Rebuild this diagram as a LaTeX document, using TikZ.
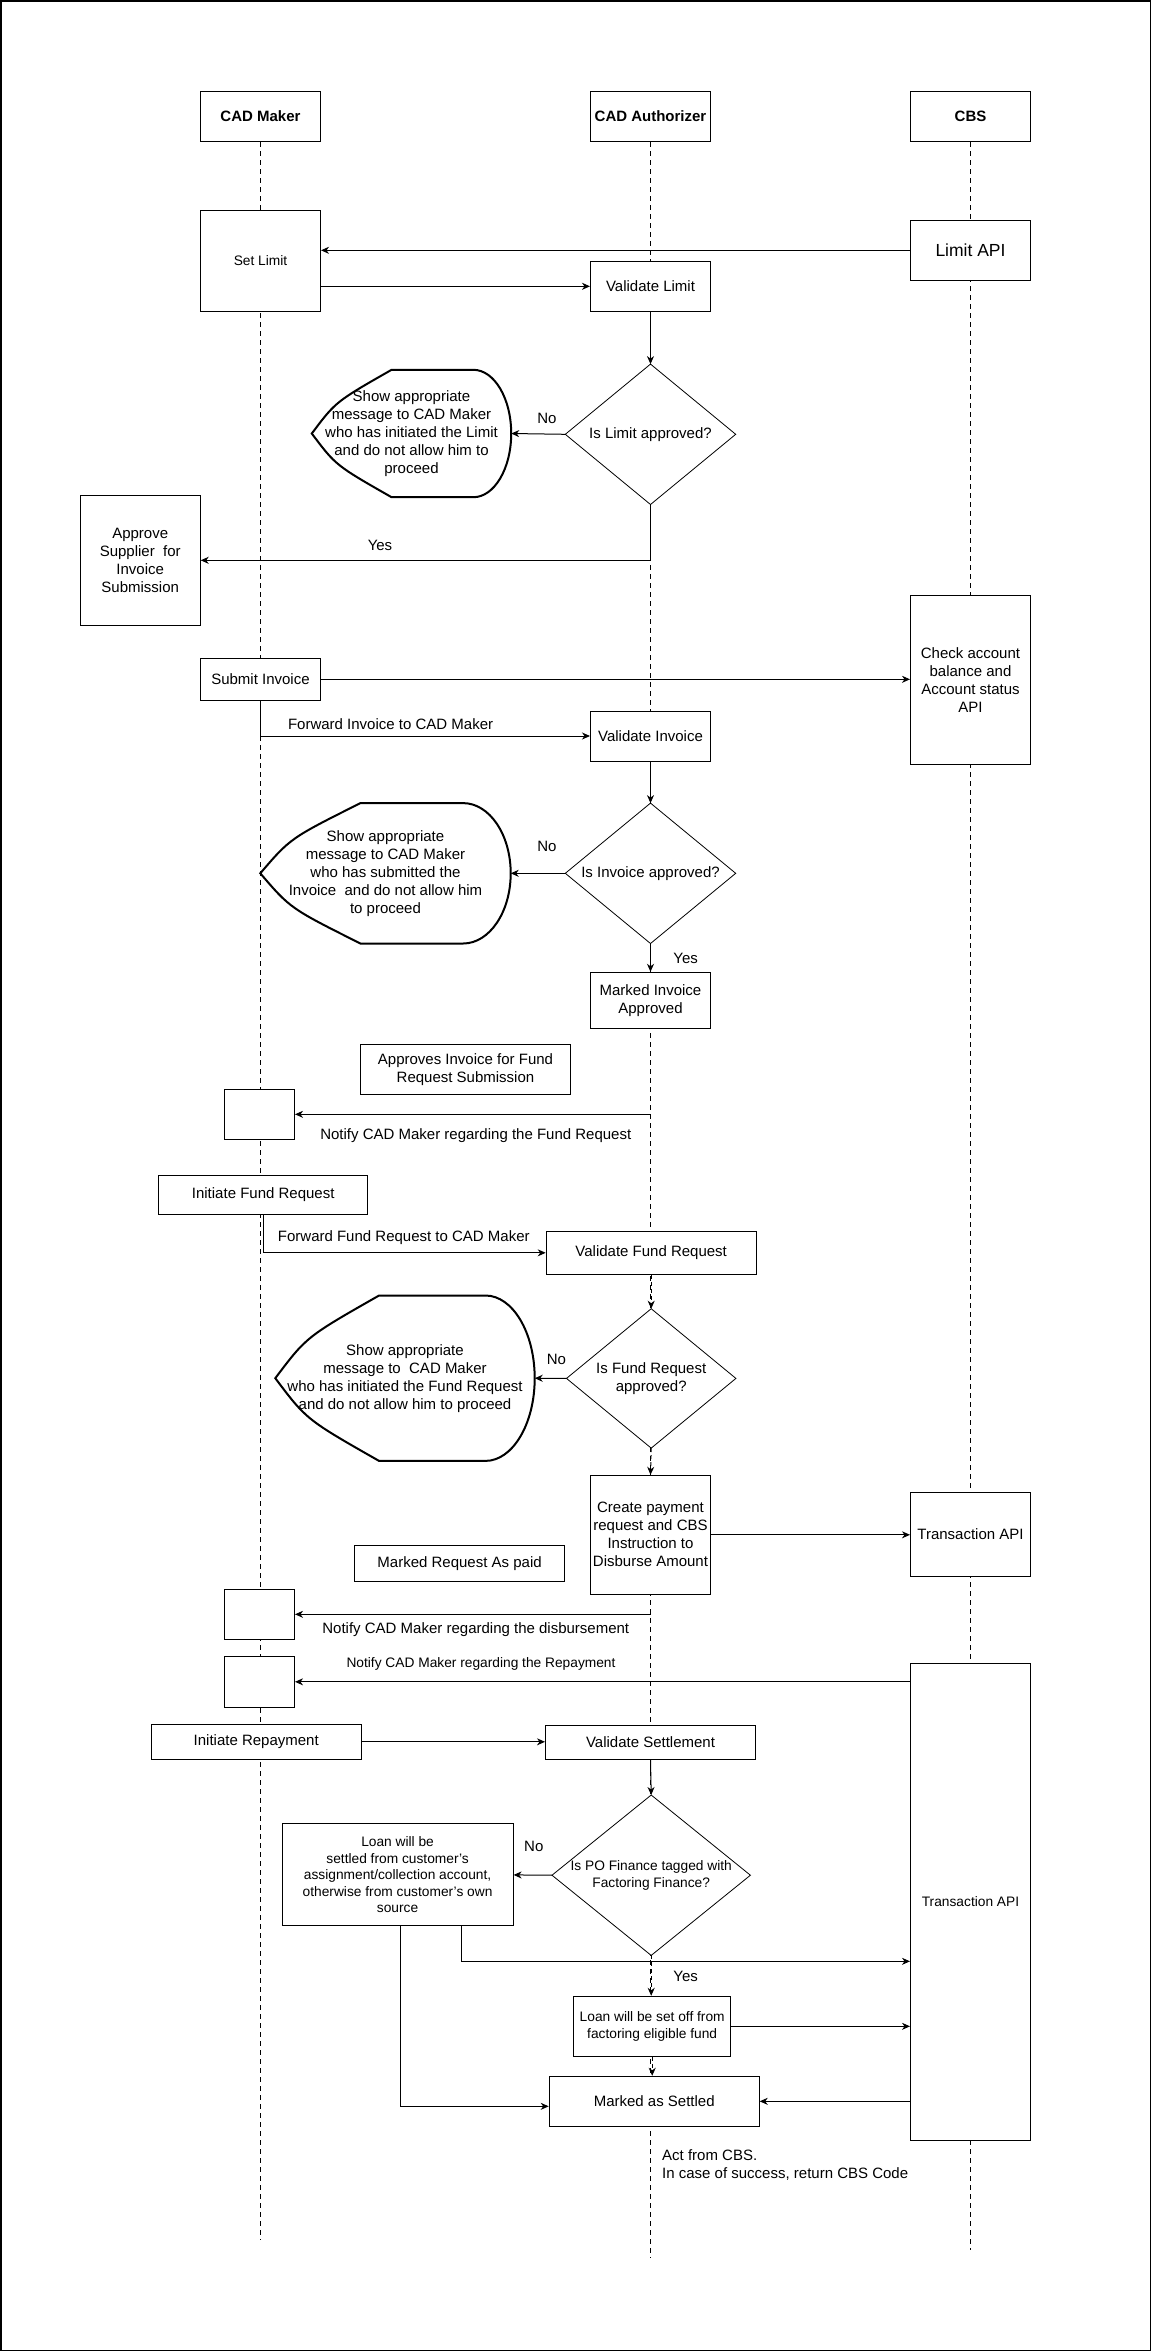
\documentclass[tikz,border=0pt]{standalone}
\usepackage{fontspec}
\setmainfont{Liberation Sans}
\usetikzlibrary{arrows.meta, calc, backgrounds}

\tikzset{
  basefont/.style={font=\fontsize{15}{18}\selectfont},
  smallfont/.style={font=\fontsize{13.75}{16.5}\selectfont},
  header/.style={draw, fill=white, line width=1pt, inner sep=0pt, minimum width=120pt, minimum height=50pt, font=\bfseries\fontsize{15}{18}\selectfont},
  procbox/.style 2 args={draw, fill=white, line width=1pt, align=center, inner sep=0pt, minimum width=#1pt, minimum height=#2pt, basefont},
  outlinebox/.style 2 args={align=center, inner sep=0pt, minimum width=#1pt, minimum height=#2pt, basefont},
  lifeline/.style={line width=0.8pt, dash pattern=on 5pt off 4pt},
  flow/.style={line width=1pt, -{Stealth[length=8pt, width=7pt, inset=2.5pt]}},
  dashflow/.style={flow, dash pattern=on 4pt off 3pt},
  decline/.style={draw, fill=white, line width=0.8pt},
  msgline/.style={draw, fill=white, line width=2pt},
  note/.style={basefont, inner sep=0pt},
}

\newcommand{\decoutline}[1]{%
  \begin{scope}[on background layer]
    \path[decline] (#1.north) -- (#1.east) -- (#1.south) -- (#1.west) -- cycle;
  \end{scope}}
\newcommand{\msgoutline}[1]{%
  \begin{scope}[on background layer]
    \path[msgline] let \p1=(#1.north west), \p2=(#1.south east), \n1={\x2-\x1}, \n2={\y1-\y2} in
      ({\x1+0.4*\n1},\y1) -- ({\x2-0.19*\n1},\y1)
      arc[start angle=90, end angle=-90, x radius={0.19*\n1*1pt}, y radius={0.5*\n2*1pt}]
      -- ({\x1+0.4*\n1},\y2)
      .. controls ({\x1+0.12*\n1},{\y2+0.25*\n2}) .. (\x1,{0.5*(\y1+\y2)})
      .. controls ({\x1+0.12*\n1},{\y1-0.25*\n2}) .. ({\x1+0.4*\n1},\y1) -- cycle;
  \end{scope}}

\begin{document}
\begin{tikzpicture}[x=1pt, y=-1pt]
\useasboundingbox (0,0) rectangle (1151,2351);
\draw[line width=1.5pt] (0.75,0.75) rectangle (1150.25,2350.25);

\node[header] (maker) at (260.5,116.5) {CAD Maker};
\node[header] (author) at (650.5,116.5) {CAD Authorizer};
\node[header] (cbs) at (970.5,116.5) {CBS};
\coordinate (makerend) at (260.5,2240);
\coordinate (authorend) at (650.5,2258);
\coordinate (cbsend) at (970.5,2250);
\begin{scope}[on background layer]
  \draw[lifeline] (maker.south) -- (makerend);
  \draw[lifeline] (author.south) -- (authorend);
  \draw[lifeline] (cbs.south) -- (cbsend);
\end{scope}

\node[procbox={120}{101}, smallfont] (setlimit) at (260.5,261) {Set Limit};
\node[procbox={120}{60}, font=\fontsize{17.5}{21}\selectfont] (limitapi) at (970.5,250.3) {Limit API};
\node[procbox={120}{50}] (vallimit) at (650.5,286.3) {Validate Limit};
\node[outlinebox={170}{140}] (limitdec) at (650.5,434.3) {Is Limit approved?};
\decoutline{limitdec}
\node[outlinebox={199}{127}] (limitmsg) at (411.5,433.5) {Show appropriate\\message to CAD Maker\\who has initiated the Limit\\and do not allow him to\\proceed};
\msgoutline{limitmsg}
\node[procbox={120}{130}] (approve) at (140.2,560.3) {Approve\\Supplier~ for\\Invoice\\Submission};
\node[procbox={120}{169}] (balanceapi) at (970.5,679.8) {Check account\\balance and\\Account status\\API};
\node[procbox={120}{42}] (submitinv) at (260.5,679.3) {Submit Invoice};
\node[procbox={120}{50}] (valinv) at (650.5,736) {Validate Invoice};
\node[outlinebox={170}{140}] (invdec) at (650.5,873.3) {Is Invoice approved?};
\decoutline{invdec}
\node[outlinebox={250}{140}] (invmsg) at (385.5,873.3) {Show appropriate\\message to CAD Maker\\who has submitted the\\Invoice~ and do not allow him\\to proceed};
\msgoutline{invmsg}
\node[procbox={120}{56}] (markinv) at (650.5,1000.3) {Marked Invoice\\Approved};
\node[procbox={210}{50}] (approvefund) at (465.5,1069.3) {Approves Invoice for Fund\\Request Submission};
\node[procbox={70}{50}] (notefund) at (259.5,1114.3) {};
\node[procbox={209}{39}] (initfund) at (263.2,1194.8) {Initiate Fund Request};
\node[procbox={210}{43}] (valfund) at (651.2,1252.8) {Validate Fund Request};
\node[outlinebox={169}{139}] (funddec) at (651.2,1378.4) {Is Fund Request\\approved?};
\decoutline{funddec}
\node[outlinebox={259}{165}] (fundmsg) at (405,1378.2) {Show appropriate\\message to~ CAD Maker\\who has initiated the Fund Request\\and do not allow him to proceed};
\msgoutline{fundmsg}
\node[procbox={120}{119}] (createpay) at (650.5,1534.8) {Create payment\\request and CBS\\Instruction to\\Disburse Amount};
\node[procbox={120}{84}] (txnapi) at (970.5,1534.2) {Transaction API};
\node[procbox={210}{36}] (markpaid) at (459.6,1563.3) {Marked Request As paid};
\node[procbox={70}{50}] (notedisb) at (259.5,1614.3) {};
\node[procbox={70}{51}] (noterepay) at (259.5,1681.8) {};
\node[procbox={120}{477}, smallfont] (settleapi) at (970.5,1901.7) {Transaction API};
\node[procbox={210}{35}] (initrepay) at (256.2,1741.8) {Initiate Repayment};
\node[procbox={210}{34}] (valsettle) at (650.5,1742.3) {Validate Settlement};
\node[outlinebox={198}{160}, smallfont] (factordec) at (651.2,1875.2) {Is PO Finance tagged with\\Factoring Finance?};
\decoutline{factordec}
\node[procbox={231}{102}, smallfont] (ownsource) at (397.6,1874.9) {Loan will be\\settled from customer's\\assignment/collection account,\\otherwise from customer's own\\source};
\node[procbox={156.5}{60}, smallfont] (setoff) at (652.2,2026.3) {Loan will be set off from\\factoring eligible fund};
\node[procbox={210}{50}] (settled) at (654.2,2101.3) {Marked as Settled};
\node[note, anchor=west, align=left] (cbsnote) at (662,2165) {Act from CBS.\\In case of success, return CBS Code};

\node[note] (limitno) at (547,418) {No};
\node[note] (limityes) at (380,545) {Yes};
\node[note] (fwdinv) at (390.6,724) {Forward Invoice to CAD Maker};
\node[note] (invno) at (547,846) {No};
\node[note] (invyes) at (685.7,958.3) {Yes};
\node[note] (notefundtext) at (475.8,1136) {Notify CAD Maker regarding the Fund Request};
\node[note] (fwdfund) at (403.8,1237.3) {Forward Fund Request to CAD Maker};
\node[note] (fundno) at (556.5,1359.3) {No};
\node[note] (notedisbtext) at (475.8,1630) {Notify CAD Maker regarding the disbursement};
\node[note, smallfont] (noterepaytext) at (481,1664) {Notify CAD Maker regarding the Repayment};
\node[note] (factorno) at (533.8,1846) {No};
\node[note] (factoryes) at (685.7,1976) {Yes};

\draw[flow] (limitapi.west) -- (limitapi.west -| setlimit.east);
\draw[flow] (setlimit.east |- vallimit.west) -- (vallimit.west);
\draw[flow] (vallimit.south) -- (limitdec.north);
\draw[flow] (limitdec.west) -- (limitmsg.east);
\draw[flow] (limitdec.south) |- (approve.east);
\draw[flow] (submitinv.east) -- (submitinv.east -| balanceapi.west);
\draw[flow] (submitinv.south) |- (valinv.west);
\draw[flow] (valinv.south) -- (invdec.north);
\draw[flow] (invdec.west) -- (invmsg.east);
\draw[flow] (invdec.south) -- (markinv.north);
\draw[flow] (author |- notefund.east) -- (notefund.east);
\draw[flow] (initfund.south) |- (valfund.west);
\draw[dashflow] (valfund.south) -- (funddec.north);
\draw[flow] (funddec.west) -- (fundmsg.east);
\draw[dashflow] (funddec.south) -- (createpay.north);
\draw[flow] (createpay.east) -- (createpay.east -| txnapi.west);
\draw[flow] (author |- notedisb.east) -- (notedisb.east);
\draw[flow] (settleapi.west |- noterepay.east) -- (noterepay.east);
\draw[flow] (initrepay.east) -- (initrepay.east -| valsettle.west);
\draw[flow] (valsettle.south) -- (factordec.north);
\draw[flow] (factordec.west) -- (ownsource.east);
\draw[flow] ([xshift=63.4pt]ownsource.south) |- ([yshift=-59.6pt]settleapi.west);
\draw[flow] ([xshift=3.3pt]ownsource.south) |- ([yshift=-5pt]settled.west);
\draw[dashflow] (factordec.south) -- (factordec.south |- setoff.north);
\draw[flow] (setoff.east) -- (setoff.east -| settleapi.west);
\draw[dashflow] (setoff.south) -- (setoff.south |- settled.north);
\draw[flow] (settleapi.west |- settled.east) -- (settled.east);
\end{tikzpicture}
\end{document}
